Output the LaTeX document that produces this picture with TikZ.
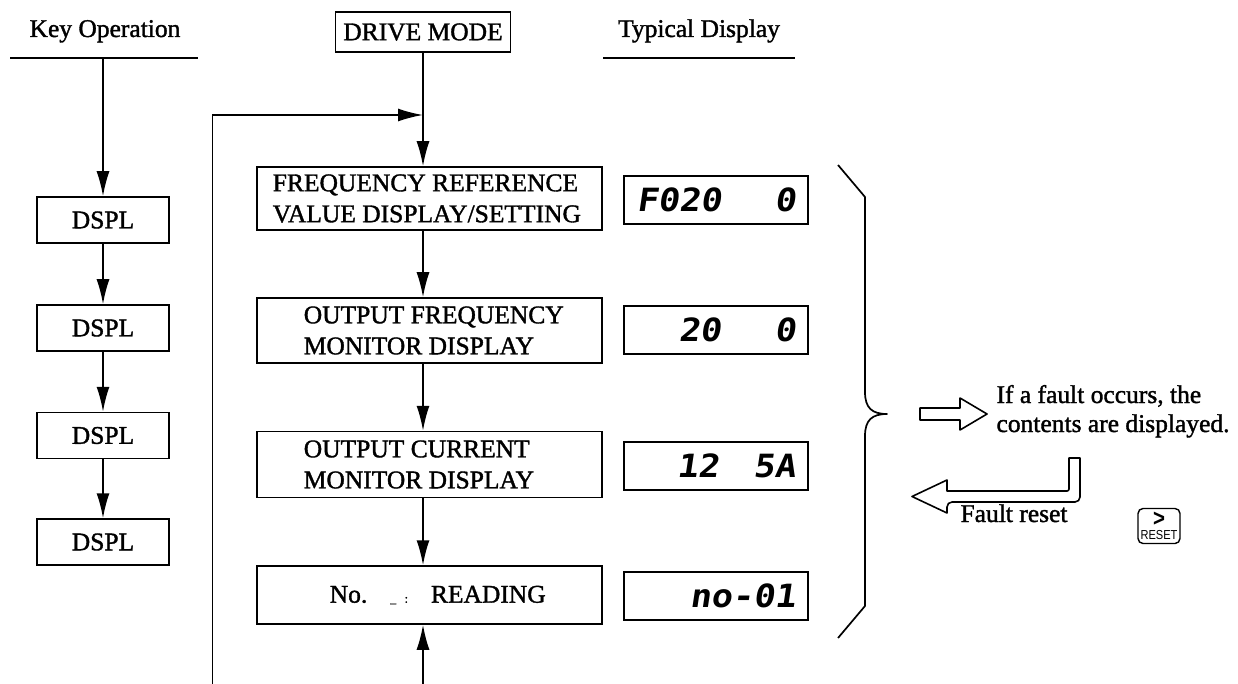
\documentclass[tikz,border=0pt]{standalone}
\usepackage{fontspec}
\setmainfont{Liberation Serif}[FakeBold=1.4]
\newfontfamily\segfont[FakeSlant=0.15,FakeStretch=1.1]{DejaVu Sans Mono}
\newfontfamily\keyfont[FakeStretch=0.85]{Liberation Sans}
\usetikzlibrary{arrows.meta}
\newcommand\segtext[1]{\makebox[159pt][l]{\segfont\bfseries\fontsize{32}{32}\selectfont #1}}
\begin{document}
\begin{tikzpicture}[x=1pt,y=-1pt,
  every node/.style={font=\fontsize{25.5}{31}\selectfont},
  ln/.style={line width=1.7pt},
  arr/.style={line width=1.7pt,-{Latex[length=25pt,width=13pt]}},
  dsplbox/.style={draw,line width=1.5pt,minimum width=132pt,minimum height=46pt,inner sep=0pt},
  mainbox/.style={draw,line width=1.5pt,minimum width=345pt,inner sep=0pt},
  dispbox/.style={draw,line width=1.5pt,minimum width=184pt,minimum height=48pt,inner sep=0pt},
  hollow/.style={line width=1.6pt,fill=white,line join=round}]
\path[use as bounding box] (0,0) rectangle (1238,684);

% headers
\node[anchor=base] (keyop) at (105,37) {Key Operation};
\coordinate (kl) at (10,58); \coordinate (kr) at (198,58);
\draw[ln] (kl) -- (kr);
\node[anchor=base] (typ) at (699,37) {Typical Display};
\coordinate (tl) at (603,58); \coordinate (tr) at (795,58);
\draw[ln] (tl) -- (tr);
\node[draw,line width=1.5pt,inner xsep=8pt,minimum height=40pt] (drive) at (423,32) {DRIVE MODE};

% key operation column
\node[dsplbox] (k1) at (103,220) {DSPL};
\node[dsplbox] (k2) at (103,328) {DSPL};
\node[dsplbox] (k3) at (103,435.5) {DSPL};
\node[dsplbox] (k4) at (103,542) {DSPL};
\coordinate (kt) at (103,58);
\draw[arr] (kt) -- (k1);
\draw[arr] (k1) -- (k2);
\draw[arr] (k2) -- (k3);
\draw[arr] (k3) -- (k4);

% drive mode column
\node[mainbox,minimum height=63pt] (f1) at (429.5,198.5) {};
\node[anchor=west,align=left] (f1t) at ([xshift=13pt]f1.west) {FREQUENCY REFERENCE\\VALUE DISPLAY/SETTING};
\node[mainbox,minimum height=65pt] (f2) at (429.5,330.5) {};
\node[anchor=west,align=left] (f2t) at ([xshift=44pt]f2.west) {OUTPUT FREQUENCY\\MONITOR DISPLAY};
\node[mainbox,minimum height=66pt] (f3) at (429.5,464.5) {};
\node[anchor=west,align=left] (f3t) at ([xshift=44pt]f3.west) {OUTPUT CURRENT\\MONITOR DISPLAY};
\node[mainbox,minimum height=58pt] (f4) at (429.5,595) {};
\node[anchor=west] (f4t) at ([xshift=70pt]f4.west) {No.\hspace{0.9em}{\fontsize{12}{12}\selectfont \_\hspace{0.7em}:}\hspace{0.9em}READING};

\draw[arr] (drive.south) -- (f1.north -| drive.south);
\draw[arr] (f1.south -| drive.south) -- (f2.north -| drive.south);
\draw[arr] (f2.south -| drive.south) -- (f3.north -| drive.south);
\draw[arr] (f3.south -| drive.south) -- (f4.north -| drive.south);
\coordinate (lb) at (212.5,684);
\coordinate (lm) at (423,115);
\draw[arr] (lb) |- (lm);
\coordinate (bb) at (423,684);
\draw[arr] (bb) -- (f4.south -| bb);

% typical displays
\node[dispbox] (d1) at (716,200) {\segtext{F020\hfill 0}};
\node[dispbox] (d2) at (716,330) {\segtext{\hspace{42pt}20\hfill 0}};
\node[dispbox] (d3) at (716,466) {\segtext{\hspace{40pt}12\hfill 5A}};
\node[dispbox] (d4) at (716,596) {\segtext{\hfill no-01}};

% brace
\coordinate (tip) at (887,414);
\draw[ln,line join=round] (838,165) -- (865,197) -- (865,392)
  .. controls (865,408) and (872,414) .. (tip)
  .. controls (872,414) and (865,420) .. (865,436) -- (865,606) -- (838,638);

% fault arrows and texts
\draw[hollow] (920,408) -- (960,408) -- (960,398) -- (987,414) -- (960,430) -- (960,420) -- (920,420) -- cycle;
\node[anchor=base west] (ft1) at (993,403) {If a fault occurs, the};
\node[anchor=base west] (ft2) at (993,432) {contents are displayed.};
\draw[hollow] (1069,458) -- (1080,458) [rounded corners=5pt] -- (1080,502) -- (947,502) [sharp corners] -- (947,513) -- (912,496.5) -- (947,480) -- (947,491) [rounded corners=2pt] -- (1069,491) [sharp corners] -- cycle;
\node[anchor=base west] (fr) at (957,522) {Fault reset};
\node[draw,line width=1.4pt,rounded corners=5pt,minimum width=42pt,minimum height=35pt,inner xsep=2pt,inner ysep=1pt,align=center,font=\keyfont\fontsize{13}{13}\selectfont] (reset) at (1159,526) {{\fontsize{24}{15}\selectfont\bfseries >}\\[0pt]RESET};
\end{tikzpicture}
\end{document}
